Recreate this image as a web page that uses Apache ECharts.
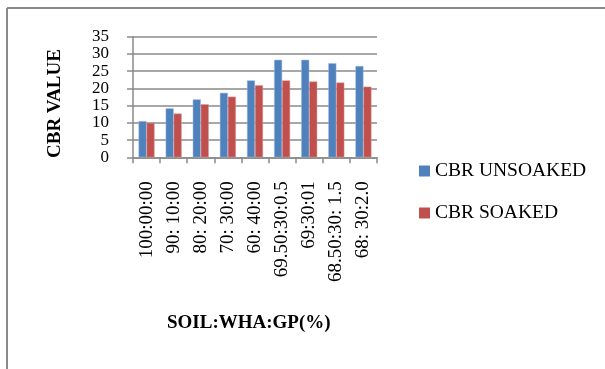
<!DOCTYPE html>
<html>
<head>
<meta charset="utf-8">
<script src="https://cdn.jsdelivr.net/npm/echarts@6/dist/echarts.min.js"></script>
<style>
html,body{margin:0;padding:0;background:#fff;}
#chart{width:605px;height:369px;}
</style>
</head>
<body>
<div id="chart"></div>
<script>
var categories = ["100:00:00", "90: 10:00", "80: 20:00", "70: 30:00", "60: 40:00", "69.50:30:0.5", "69:30:01", "68.50:30: 1.5", "68: 30:2.0"];
var unsoaked = [10.5, 14.2, 16.8, 18.7, 22.3, 28.3, 28.3, 27.3, 26.5];
var soaked = [10.0, 12.7, 15.4, 17.6, 20.9, 22.3, 22.0, 21.7, 20.5];
var yTicks = [0, 5, 10, 15, 20, 25, 30, 35];

var FONT = '"Liberation Serif", "Times New Roman", serif';
var chart = echarts.init(document.getElementById('chart'), null, {renderer: 'canvas'});
chart.setOption({
  animation: false,
  backgroundColor: '#ffffff',
  graphic: [
    {type: 'line', shape: {x1: 7, y1: 8, x2: 605, y2: 8}, style: {stroke: '#8a8a8a', lineWidth: 2}},
    {type: 'line', shape: {x1: 7, y1: 8, x2: 7, y2: 369}, style: {stroke: '#8a8a8a', lineWidth: 2}},
    {type: 'text', left: 167, top: 314, style: {text: 'SOIL:WHA:GP(%)', font: 'bold 19px ' + FONT, fill: '#000'}},
    {type: 'text', x: 46, y: 158, rotation: Math.PI / 2, style: {text: 'CBR VALUE', font: 'bold 19px ' + FONT, fill: '#000'}}
  ],
  grid: {left: 133, right: 228, top: 36.7, bottom: 211.7, containLabel: false},
  legend: {
    orient: 'vertical',
    left: 419,
    top: 161,
    padding: 0,
    itemWidth: 11,
    itemHeight: 11,
    itemGap: 22,
    icon: 'rect',
    itemStyle: {borderWidth: 0},
    textStyle: {fontFamily: FONT, fontSize: 19.5, color: '#000', lineHeight: 19.5},
    data: ['CBR UNSOAKED', 'CBR SOAKED']
  },
  xAxis: {
    type: 'category',
    data: categories,
    boundaryGap: true,
    axisLine: {lineStyle: {color: '#8a8a8a', width: 1.5}},
    axisTick: {show: true, length: 6, lineStyle: {color: '#8a8a8a', width: 1.5}},
    axisLabel: {rotate: 90, margin: 24, interval: 0, fontFamily: FONT, fontSize: 19, color: '#000'}
  },
  yAxis: {
    type: 'value',
    min: yTicks[0],
    max: yTicks[yTicks.length - 1],
    interval: 5,
    axisLine: {show: true, lineStyle: {color: '#8a8a8a', width: 1.5}},
    axisTick: {show: true, length: 6, lineStyle: {color: '#8a8a8a', width: 1.5}},
    splitLine: {show: true, lineStyle: {color: '#8a8a8a', width: 1.5}},
    axisLabel: {margin: 24, fontFamily: FONT, fontSize: 17, color: '#000', showMinLabel: true, showMaxLabel: true}
  },
  series: [
    {name: 'CBR UNSOAKED', type: 'bar', data: unsoaked, barWidth: 8, barGap: '0%',
     itemStyle: {color: '#4F81BD', borderColor: '#9db9dd', borderWidth: 0.5}},
    {name: 'CBR SOAKED', type: 'bar', data: soaked, barWidth: 8,
     itemStyle: {color: '#C0504D', borderColor: '#dc9896', borderWidth: 0.5}}
  ]
});
</script>
</body>
</html>
